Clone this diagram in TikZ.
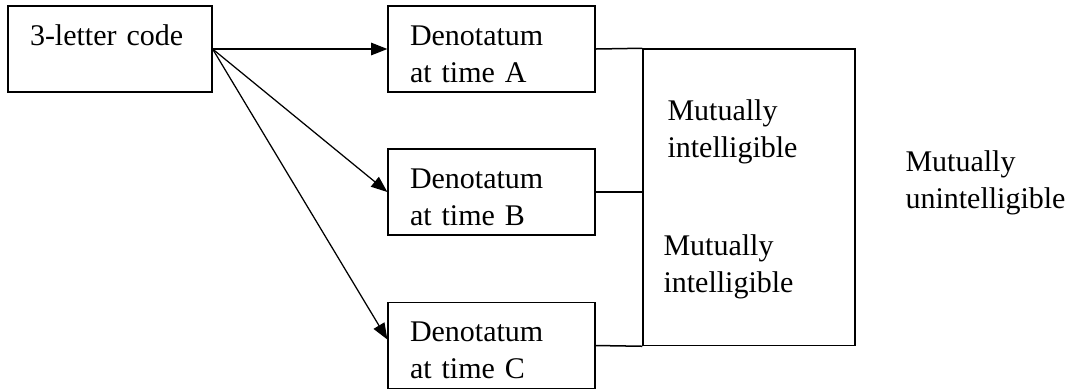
\documentclass[tikz,border=0pt]{standalone}
\usepackage{fontspec}
\setmainfont{Liberation Serif}
\usepackage{tikz}
\usetikzlibrary{arrows.meta}
\usetikzlibrary{calc}

\begin{document}
\begin{tikzpicture}[x=0.4pt,y=-0.4pt, font=\fontsize{12pt}{14.8pt}\selectfont,
	box/.style={draw,line width=.5pt,text width=65.2pt,align=left,inner xsep=8.8pt,inner ysep=0pt,text height=15.6pt,text depth=18.8pt},
	note/.style={text width=72pt,align=left,inner sep=0pt},
	arr/.style={line width=.5pt,-{Triangle[length=6.5pt,width=5pt]}}]
	\useasboundingbox (0,0) rectangle (1080,389);
	
	%codigo
	\node[box,text width=64pt] (code) at (110,49) {3-letter code};
	
	%denotata
	\node[box] (A) at (491.5,49) {Denotatum\\at time A};
	\node[box] (B) at (491.5,192) {Denotatum\\at time B};
	\node[box] (C) at (491.5,345.5) {Denotatum\\at time C};
	
	\draw[arr] (code.east) -- (A.west);
	\draw[arr] (code.east) -- (B.west);
	\draw[arr] (code.east) -- ([yshift=2.4pt]C.west);
	
	%caja grande
	\node[draw,line width=.6pt,minimum width=84.8pt,minimum height=118.6pt,inner sep=0pt] (grp) at (749,197.25) {};
	\draw[line width=.6pt] (A.east) -- (grp.north west);
	\draw[line width=.6pt] (B.east) -- (B.east -| grp.west);
	\draw[line width=.6pt] (C.east) -- (grp.south west);
	
	\node[note,anchor=base west] (mi1) at (667,120) {Mutually\\intelligible};
	\node[note,anchor=base west] (mi2) at (663,255) {Mutually\\intelligible};
	\node[note,anchor=base west] (mu) at (905,171) {Mutually\\unintelligible};
\end{tikzpicture}
\end{document}
